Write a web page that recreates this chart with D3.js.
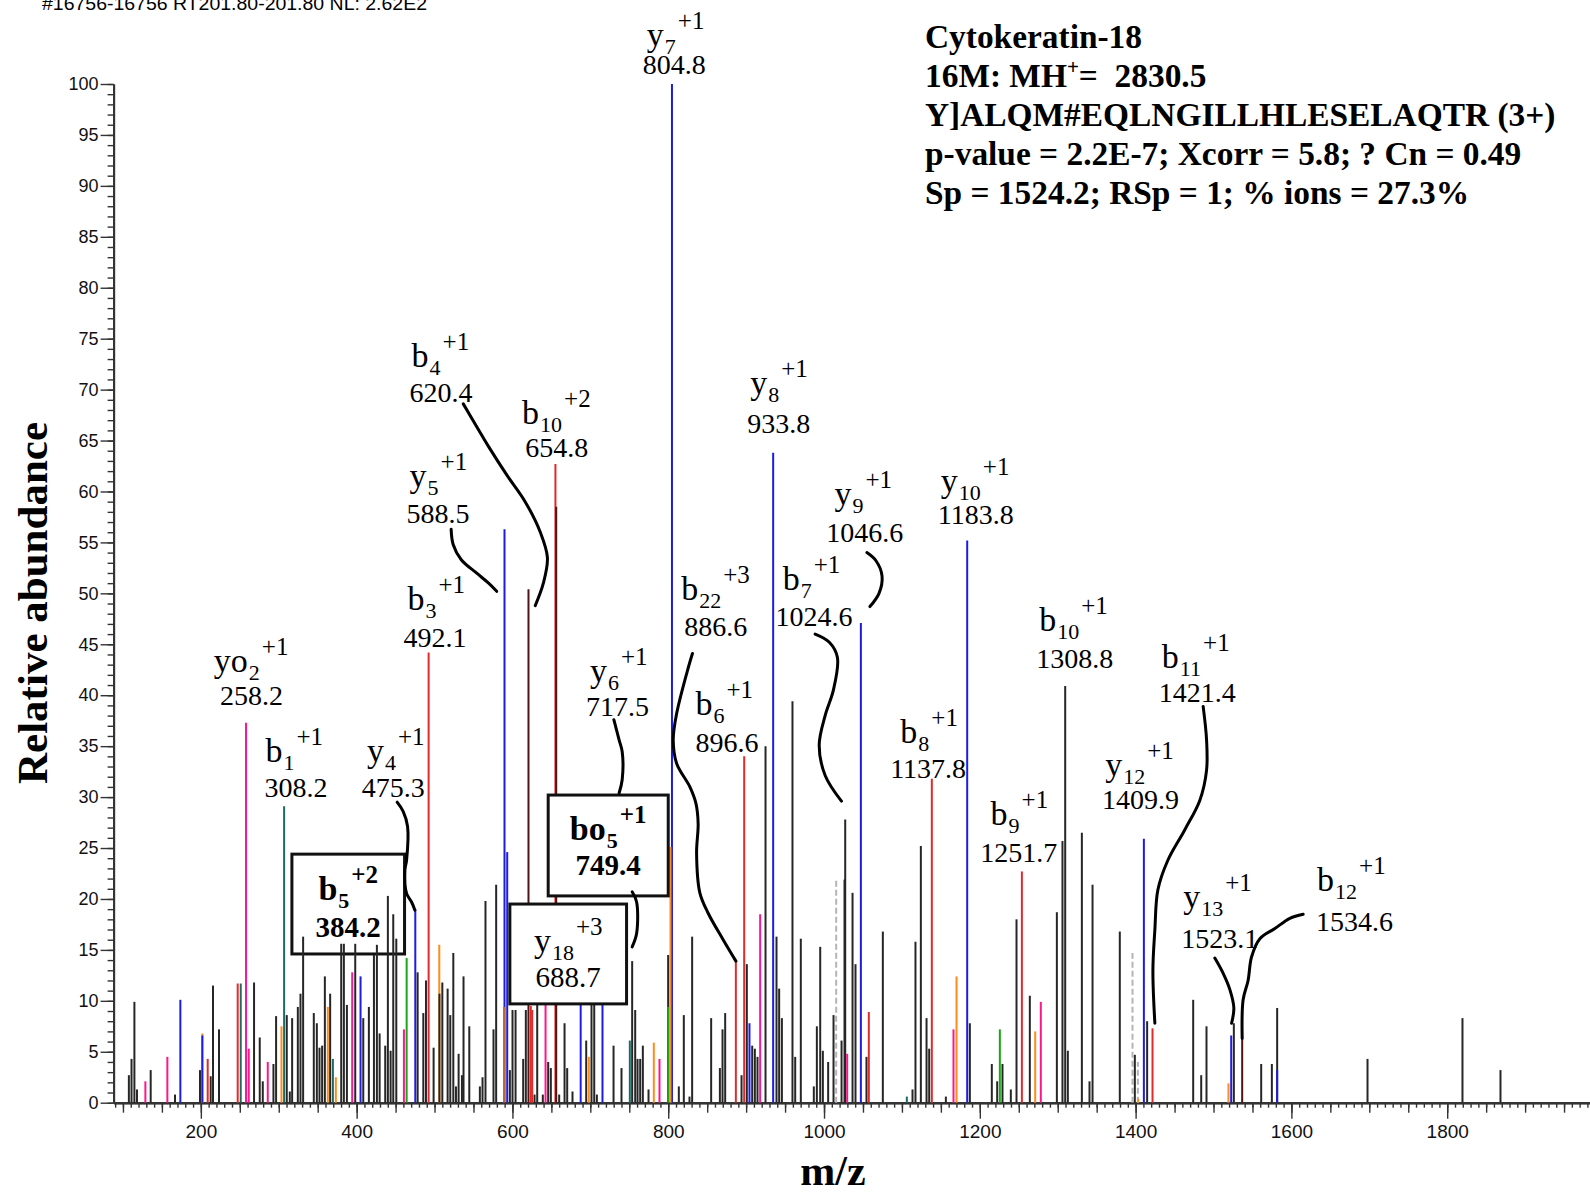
<!DOCTYPE html>
<html>
<head>
<meta charset="utf-8">
<script src="https://cdn.jsdelivr.net/npm/d3@7"></script>
<style>
body { margin: 0; background: #fff; }
svg { display: block; }
</style>
</head>
<body>
<svg id="mainSvg" width="1590" height="1195"></svg>
<script>
// peaks: [m/z, relative abundance %]
const unassigned = [
    [107.6,2.7],[111,4.3],[114.7,9.9],[118,1.3],[135.6,3.2],[166.8,0.8],[198.9,3.2],[212.6,2.6],[215.6,11.5],[223.3,7.2],
    [268.3,11.8],[275.6,6.4],[279.5,2.1],[293.2,3.8],[296.6,8.5],[310.3,8.6],[314.2,1.1],[317.2,8.3],[324.5,9.4],[327.9,10.7],
    [331.3,16.3],[345,8.8],[348.9,7.8],[352.3,5.4],[355.7,5.6],[359.2,12.4],[366,10.7],[380.2,15.6],[383.6,15.6],[387.5,9.6],
    [398.2,15.6],[408.5,8.3],[415.7,9.4],[422.2,14.5],[426,15.5],[429.5,6.8],[436.7,5.6],[440.1,20.3],[443.6,5.1],[447,18.5],
    [450.9,16.1],[478.3,12.8],[485.6,8.8],[489,12.0],[498.8,5.4],[506.3,10.7],[510,11.8],[516.8,11.2],[520.2,8.6],[524.1,14.7],
    [527.5,1.6],[530.9,4.8],[535.2,2.7],[537.2,12.4],[544.6,7.5],[558.2,1.6],[561.6,2.5],[565.4,19.8],[575.7,7.2],[579.1,21.4],
    [596.7,3.2],[600.1,9.1],[604,9.1],[613.8,4.3],[617.2,9.1],[628.4,0.8],[631.8,9.6],[639,0.8],[645.9,4.0],[649.3,3.4],
    [660,0.8],[666.9,7.8],[670.3,3.4],[677.1,1.1],[694.7,6.1],[701.5,9.6],[705,9.6],[708.4,0.8],[729.8,5.6],[740,3.4],
    [753.7,13.9],[757.6,9.1],[760.6,4.3],[764,4.3],[767.4,5.6],[774.7,1.3],[799.9,14.5],[813.6,1.6],[820,8.6],[827.3,0.6],
    [830.7,16.3],[855.1,8.3],[866.3,3.4],[869.7,7.2],[873.1,8.8],[894.1,2.7],[900.9,13.6],[907.8,5.6],[911.2,5.3],[914.6,4.5],
    [924.9,35.0],[939,16.3],[942.4,11.2],[945.9,8.3],[959.5,39.4],[963,4.5],[970.2,16.1],[986.9,1.6],[990.8,7.5],[995.1,15.3],
    [998.5,5.1],[1005.3,4.0],[1012.2,8.6],[1022.5,6.1],[1026.3,21.9],[1027.2,27.8],[1036.6,20.6],[1040.4,13.6],[1054.5,4.5],[1075.5,16.8],
    [1113.6,1.3],[1117.4,15.8],[1124.3,25.2],[1131.6,8.3],[1135,5.3],[1156.4,0.6],[1187.2,7.8],[1215.4,3.8],[1222.3,2.1],[1229.1,3.8],
    [1239.8,1.3],[1247.1,18.0],[1264.2,10.5],[1298.9,18.7],[1306.1,25.7],[1309.6,40.9],[1313,5.1],[1331,26.5],[1340.8,2.1],[1344.7,21.4],
    [1379.7,16.8],[1399,4.7],[1414.8,8.0],[1473.9,10.1],[1484.2,2.7],[1491,7.5],[1526.1,7.8],[1561.2,3.8],[1574.9,3.8],[1581.7,9.3],
    [1697.7,4.3],[1819.6,8.3],[1868.4,3.2]
];
const yIons = [
    [173.7,10.1],[201.9,6.6],[405,12.4],[475.3,19.0],[589.8,56.3],[593.3,24.6],[687.6,16.0],[715.6,9.6],[804.8,100],
    [904.3,7.8],[934.7,63.8],[1047.3,47.1],[1183.8,55.2],[1410.6,25.9],[1522.7,6.6],[1581.7,3.2]
];
const bIons = [
    [208.8,4.3],[247.3,11.7],[492.4,44.2],[623.6,9.5],[625.4,9.1],[655.2,62.7],[886.8,13.8],[897.5,34.0],
    [1057.5,8.9],[1138.4,31.8],[1254,22.7],[1421.7,7.3]
];
const pinkIons = [
    [128.8,2.1],[157,4.5],[258,37.3],[261.5,5.3],[285.9,4.0],[394.3,12.8],[460.7,7.2],[642.5,9.6],[788.8,4.3],
    [918,18.5],[1029.7,4.8],[1166.2,7.2],[1278.3,9.9]
];
const tealIons = [[251.2,11.7],[306.9,29.1],[369.5,4.3],[750.7,6.1],[1106.3,0.6]];
const orangeIons = [
    [202.0,6.8],[303.5,7.5],[363,9.4],[373.3,2.5],[506.1,15.5],[698.1,4.5],[781.5,5.9],[802.9,25.1],
    [1170.1,12.4],[1271.1,7.0],[1403.3,0.4],[1519.2,1.9]
];
const greenIons = [[464.2,14.2],[799.9,9.4],[1225.7,7.2]];
const darkIons = [[620.6,50.4],[656.2,58.5],[1536.8,6.3]];
const brownIons = [[589.4,9.4]];
const faintIons = [[1015.6,21.9],[1396,14.7],[1402.9,4.0]];

const xMajorTicks = [200, 400, 600, 800, 1000, 1200, 1400, 1600, 1800];
const yMajorTicks = d3.range(0, 101, 5);

const headerText = "#16756-16756 RT201.80-201.80 NL: 2.62E2";
const infoLines = [
    ["Cytokeratin-18"],
    ["16M: MH", "+", "=  2830.5"],
    ["Y]ALQM#EQLNGILLHLESELAQTR (3+)"],
    ["p-value = 2.2E-7; Xcorr = 5.8; ? Cn = 0.49"],
    ["Sp = 1524.2; RSp = 1; % ions = 27.3%"]
];

// ion labels, anchored in chart units [m/z, %]
const ionLabels = [
    {ion:"y", sub:"7", sup:"+1", value:"804.8", ionAt:[772.5,103.7], valueAt:[767.3,101.0]},
    {ion:"b", sub:"4", sup:"+1", value:"620.4", ionAt:[470.5,72.2], valueAt:[467.9,68.8]},
    {ion:"b", sub:"10", sup:"+2", value:"654.8", ionAt:[612.4,66.6], valueAt:[616.3,63.4]},
    {ion:"y", sub:"5", sup:"+1", value:"588.5", ionAt:[467.9,60.45], valueAt:[464.0,56.9]},
    {ion:"b", sub:"3", sup:"+1", value:"492.1", ionAt:[465.3,48.4], valueAt:[460.1,44.7]},
    {ion:"yo", sub:"2", sup:"+1", value:"258.2", ionAt:[216.7,42.3], valueAt:[224.5,39.05]},
    {ion:"b", sub:"1", sup:"+1", value:"308.2", ionAt:[283.0,33.4], valueAt:[281.7,30.0]},
    {ion:"y", sub:"4", sup:"+1", value:"475.3", ionAt:[413.2,33.4], valueAt:[406.7,30.0]},
    {ion:"y", sub:"6", sup:"+1", value:"717.5", ionAt:[699.6,41.3], valueAt:[694.4,38.0]},
    {ion:"b", sub:"22", sup:"+3", value:"886.6", ionAt:[816.7,49.3], valueAt:[820.6,45.8]},
    {ion:"b", sub:"6", sup:"+1", value:"896.6", ionAt:[835.0,38.05], valueAt:[835.0,34.4]},
    {ion:"y", sub:"8", sup:"+1", value:"933.8", ionAt:[905.3,69.6], valueAt:[901.3,65.7]},
    {ion:"y", sub:"9", sup:"+1", value:"1046.6", ionAt:[1013.3,58.65], valueAt:[1002.9,55.0]},
    {ion:"b", sub:"7", sup:"+1", value:"1024.6", ionAt:[946.9,50.3], valueAt:[937.8,46.8]},
    {ion:"y", sub:"10", sup:"+1", value:"1183.8", ionAt:[1150.0,59.95], valueAt:[1146.1,56.8]},
    {ion:"b", sub:"10", sup:"+1", value:"1308.8", ionAt:[1276.2,46.3], valueAt:[1272.3,42.7]},
    {ion:"b", sub:"11", sup:"+1", value:"1421.4", ionAt:[1433.7,42.7], valueAt:[1429.8,39.35]},
    {ion:"y", sub:"12", sup:"+1", value:"1409.9", ionAt:[1360.9,32.1], valueAt:[1357.0,28.8]},
    {ion:"b", sub:"8", sup:"+1", value:"1137.8", ionAt:[1097.9,35.3], valueAt:[1084.9,31.9]},
    {ion:"b", sub:"9", sup:"+1", value:"1251.7", ionAt:[1213.8,27.3], valueAt:[1200.7,23.6]},
    {ion:"y", sub:"13", sup:"+1", value:"1523.1", ionAt:[1461.1,19.15], valueAt:[1458.5,15.2]},
    {ion:"b", sub:"12", sup:"+1", value:"1534.6", ionAt:[1632.9,20.8], valueAt:[1631.6,16.9]}
];

const boxedLabels = [
    {ion:"b", sub:"5", sup:"+2", value:"384.2", bold:true, box:[316.9,461.5,24.4,14.6], ionY:19.9, valueY:16.3},
    {ion:"bo", sub:"5", sup:"+1", value:"749.4", bold:true, box:[645.9,800.0,30.2,20.3], ionY:25.8, valueY:22.35},
    {ion:"y", sub:"18", sup:"+3", value:"688.7", bold:false, box:[596.7,746.5,19.5,9.7], ionY:14.8, valueY:11.4}
];

const leaders = [
    [[536.9,68.6],[553.8,66.4],[569.4,64.4],[592.9,61.6],[616.3,59.0],[635.8,56.0],[644.9,53.5],[639.7,51.0],[629.3,48.8]],
    [[521.3,56.3],[523.9,54.8],[534.3,53.3],[553.8,52.0],[569.4,51.0],[579.8,50.2]],
    [[452.0,29.5],[459.7,28.6],[465.4,27.1],[464.1,23.8],[461.9,22.8],[464.1,20.55],[470.5,19.7],[474.8,18.9]],
    [[730.2,37.6],[737.0,35.6],[740.9,34.45],[740.9,31.7],[737.0,30.4]],
    [[753.7,20.7],[759.4,19.7],[759.4,16.6],[753.7,15.3]],
    [[831.1,44.1],[824.6,42.4],[810.8,38.2],[806.4,35.6],[810.8,33.3],[827.8,31.0],[835.5,29.4],[838.4,27.4],[836.4,24.5],[840.6,20.6],[851.3,18.6],[870.5,16.0],[886.9,13.9]],
    [[1055.0,54.0],[1066.7,53.2],[1074.5,51.7],[1070.6,50.0],[1058.9,48.7]],
    [[988.6,46.0],[1006.8,45.2],[1017.2,43.7],[1012.0,40.5],[1001.6,38.05],[993.8,35.1],[1001.6,32.1],[1022.4,29.6]],
    [[1486.7,38.9],[1491.1,35.6],[1491.1,32.65],[1482.5,29.7],[1463.2,26.8],[1441.4,23.8],[1428.6,20.9],[1424.7,16.95],[1422.2,13.0],[1424.7,7.8]],
    [[1501.7,14.2],[1512.4,12.7],[1521.0,11.1],[1526.1,9.3],[1523.2,7.8]],
    [[1615.1,18.5],[1598.0,18.1],[1578.8,17.1],[1559.5,16.1],[1548.8,14.3],[1544.4,12.0],[1538.0,10.1],[1536.8,6.3]]
];

const seriesColor = {
    unassigned: "#262626", yIons: "#1c1ce6", bIons: "#e22a2a", pinkIons: "#ff168c",
    tealIons: "#1d6a64", orangeIons: "#ff8c1a", greenIons: "#16a816", darkIons: "#4f1515",
    brownIons: "#b9662f", faintIons: "#b4b4b4"
};

const serif = "'Liberation Serif', 'Times New Roman', serif";
const sans = "'Liberation Sans', Arial, Helvetica, sans-serif";

let canvas = d3.select("#mainSvg");

let x = d3.scaleLinear().domain([88, 2000]).range([113.6, 1603]);
let y = d3.scaleLinear().domain([0, 100]).range([1102.7, 84]);

function drawAxes() {
    let gx = canvas.append("g").attr("transform", `translate(0,${y(0)})`);
    gx.append("g").call(d3.axisBottom(x).tickValues(d3.range(90, 2001, 10)).tickSize(5).tickSizeOuter(0).tickFormat(""));
    gx.append("g").call(d3.axisBottom(x).tickValues(d3.range(100, 2001, 50)).tickSize(10).tickSizeOuter(0).tickFormat(""));
    gx.append("g").call(d3.axisBottom(x).tickValues(xMajorTicks).tickSize(16).tickSizeOuter(0).tickPadding(6).tickFormat(d3.format("d")));
    gx.selectAll("text").attr("font-family", sans).attr("font-size", 19).attr("fill", "#111");
    gx.selectAll("line").attr("stroke", "#333").attr("stroke-width", 1.4);
    gx.selectAll(".domain").attr("stroke", "#333").attr("stroke-width", 2);

    let gy = canvas.append("g").attr("transform", `translate(${x(88)},0)`);
    gy.append("g").call(d3.axisLeft(y).tickValues(d3.range(0, 101, 1)).tickSize(6).tickSizeOuter(0).tickFormat(""));
    gy.append("g").call(d3.axisLeft(y).tickValues(yMajorTicks).tickSize(13).tickSizeOuter(0).tickPadding(2));
    gy.selectAll("text").attr("font-family", sans).attr("font-size", 18).attr("fill", "#111");
    gy.selectAll("line").attr("stroke", "#333").attr("stroke-width", 1.4);
    gy.selectAll(".domain").attr("stroke", "#333").attr("stroke-width", 2);
}

function drawPeaks() {
    let series = { unassigned, yIons, bIons, pinkIons, tealIons, orangeIons, greenIons, darkIons, brownIons, faintIons };
    let all = [];
    Object.keys(series).forEach(k => series[k].forEach(p => all.push({mz: p[0], ab: p[1], color: seriesColor[k], faint: k === "faintIons"})));
    // tallest first so short peaks stay visible on top of tall ones
    all.sort((a, b) => b.ab - a.ab);

    canvas.append("g").selectAll("line")
        .data(all)
        .enter()
            .append("line")
            .attr("x1", d => x(d.mz))
            .attr("x2", d => x(d.mz))
            .attr("y1", y(0))
            .attr("y2", d => y(d.ab))
            .attr("stroke", d => d.color)
            .attr("stroke-width", 2)
            .attr("stroke-dasharray", d => d.faint ? "6,3" : null);
}

function ionText(sel, d, bold) {
    let t = sel.append("text")
        .attr("font-family", serif)
        .attr("font-weight", bold ? "bold" : "normal")
        .attr("fill", "#000");
    t.append("tspan").attr("font-size", 34).text(d.ion);
    t.append("tspan").attr("font-size", 22).attr("dx", 1).attr("dy", 8).text(d.sub);
    t.append("tspan").attr("font-size", 25).attr("dx", 2).attr("dy", -25).text(d.sup);
    return t;
}

function drawBox(d) {
    let g = canvas.append("g");
    g.append("rect")
        .attr("x", x(d.box[0]))
        .attr("y", y(d.box[2]))
        .attr("width", x(d.box[1]) - x(d.box[0]))
        .attr("height", y(d.box[3]) - y(d.box[2]))
        .attr("fill", "#fff")
        .attr("stroke", "#111")
        .attr("stroke-width", 3);
    let cx = (x(d.box[0]) + x(d.box[1])) / 2;
    ionText(g, d, d.bold).attr("x", cx).attr("y", y(d.ionY)).attr("text-anchor", "middle");
    g.append("text")
        .attr("x", cx)
        .attr("y", y(d.valueY))
        .attr("text-anchor", "middle")
        .attr("font-family", serif)
        .attr("font-weight", d.bold ? "bold" : "normal")
        .attr("font-size", 29)
        .text(d.value);
}

function drawLabels() {
    let line = d3.line().x(p => x(p[0])).y(p => y(p[1])).curve(d3.curveCatmullRom);
    canvas.append("g").selectAll("path")
        .data(leaders)
        .enter()
            .append("path")
            .attr("d", line)
            .attr("fill", "none")
            .attr("stroke", "#000")
            .attr("stroke-width", 3)
            .attr("stroke-linecap", "round");

    let g = canvas.append("g");
    ionLabels.forEach(d => {
        ionText(g, d, false).attr("x", x(d.ionAt[0])).attr("y", y(d.ionAt[1]));
        g.append("text")
            .attr("x", x(d.valueAt[0]))
            .attr("y", y(d.valueAt[1]))
            .attr("font-family", serif)
            .attr("font-size", 28)
            .text(d.value);
    });
}

function drawTexts() {
    canvas.append("text")
        .attr("x", 42).attr("y", 10)
        .attr("font-family", sans).attr("font-size", 18)
        .attr("textLength", 385).attr("lengthAdjust", "spacingAndGlyphs")
        .text(headerText);

    let info = canvas.append("g")
        .attr("font-family", serif).attr("font-weight", "bold").attr("font-size", 33.4);
    infoLines.forEach((parts, i) => {
        let t = info.append("text")
            .attr("x", 925).attr("y", 48 + i * 39)
            .attr("xml:space", "preserve")
            .style("white-space", "pre");
        t.append("tspan").text(parts[0]);
        if (parts.length > 1) {
            t.append("tspan").attr("font-size", 21).attr("dy", -13).text(parts[1]);
            t.append("tspan").attr("dy", 13).text(parts[2]);
        }
    });

    canvas.append("text")
        .attr("transform", "translate(47,603) rotate(-90)")
        .attr("text-anchor", "middle")
        .attr("font-family", serif).attr("font-weight", "bold").attr("font-size", 43)
        .text("Relative abundance");

    canvas.append("text")
        .attr("x", 833).attr("y", 1185)
        .attr("text-anchor", "middle")
        .attr("font-family", serif).attr("font-weight", "bold").attr("font-size", 42)
        .text("m/z");
}

drawAxes();
drawBox(boxedLabels[0]);
drawPeaks();
drawBox(boxedLabels[1]);
drawBox(boxedLabels[2]);
drawLabels();
drawTexts();
</script>
</body>
</html>
